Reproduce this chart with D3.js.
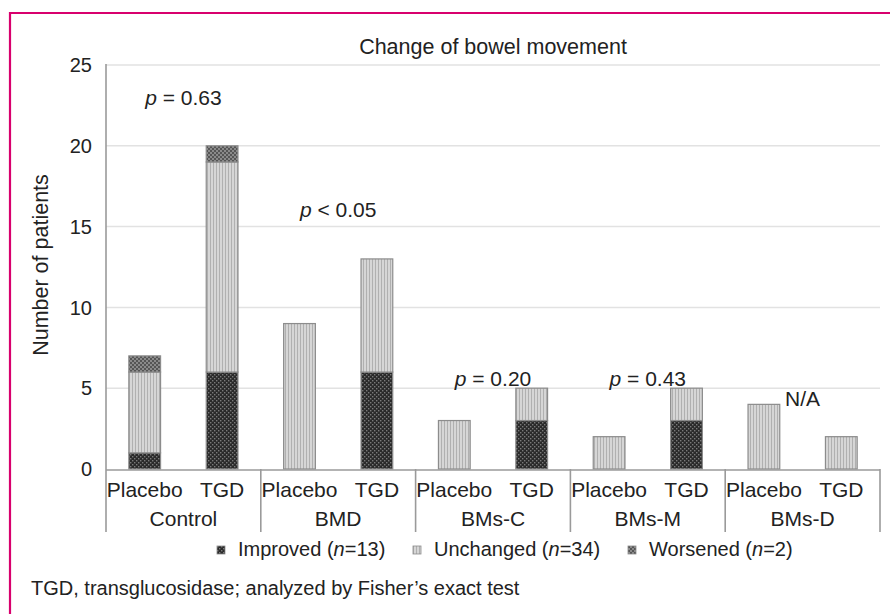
<!DOCTYPE html>
<html>
<head>
<meta charset="utf-8">
<script src="https://cdn.jsdelivr.net/npm/d3@7"></script>
<style>
  html, body { margin: 0; padding: 0; background: #fff; }
  svg { display: block; font-family: "Liberation Sans", Arial, sans-serif; }
</style>
</head>
<body>
<svg id="chart" width="890" height="614"></svg>
<script>
// Patient counts per study arm, grouped by condition
const groups = ["Control", "BMD", "BMs-C", "BMs-M", "BMs-D"];
const arms = ["Placebo", "TGD"];
const improved  = [1, 6, 0, 6, 0, 3, 0, 3, 0, 0];
const unchanged = [5, 13, 9, 7, 3, 2, 2, 2, 4, 2];
const worsened  = [1, 1, 0, 0, 0, 0, 0, 0, 0, 0];
const pLabels = [
  { p: "p", rest: " = 0.63", y: 22.5 },
  { p: "p", rest: " < 0.05", y: 15.6 },
  { p: "p", rest: " = 0.20", y: 5.15 },
  { p: "p", rest: " = 0.43", y: 5.15 },
  { p: "",  rest: "N/A",     y: 3.9 }
];
const yTicks = [0, 5, 10, 15, 20, 25];
const seriesNames = ["Improved", "Unchanged", "Worsened"];
const seriesN = [13, 34, 2];

(function draw() {
  const svg = d3.select("#chart");
  const ink = "#222";

  // Patterned fills for the three outcomes
  const defs = svg.append("defs");
  const pImp = defs.append("pattern").attr("id", "pat-imp").attr("patternUnits", "userSpaceOnUse")
    .attr("width", 4).attr("height", 4);
  pImp.append("rect").attr("width", 4).attr("height", 4).attr("fill", "#2a2a2a");
  pImp.append("rect").attr("x", 0).attr("y", 0).attr("width", 1.4).attr("height", 1.4).attr("fill", "#7a7a7a");
  pImp.append("rect").attr("x", 2).attr("y", 2).attr("width", 1.4).attr("height", 1.4).attr("fill", "#7a7a7a");

  const pUnc = defs.append("pattern").attr("id", "pat-unc").attr("patternUnits", "userSpaceOnUse")
    .attr("width", 3).attr("height", 3);
  pUnc.append("rect").attr("width", 3).attr("height", 3).attr("fill", "#d6d6d6");
  pUnc.append("rect").attr("x", 0).attr("y", 0).attr("width", 1).attr("height", 3).attr("fill", "#b0b0b0");

  const pWor = defs.append("pattern").attr("id", "pat-wor").attr("patternUnits", "userSpaceOnUse")
    .attr("width", 4).attr("height", 4);
  pWor.append("rect").attr("width", 4).attr("height", 4).attr("fill", "#8a8a8a");
  pWor.append("rect").attr("x", 0).attr("y", 0).attr("width", 2).attr("height", 2).attr("fill", "#555");
  pWor.append("rect").attr("x", 2).attr("y", 2).attr("width", 2).attr("height", 2).attr("fill", "#555");

  const fills = ["url(#pat-imp)", "url(#pat-unc)", "url(#pat-wor)"];

  // Frame
  svg.append("line").attr("x1", 10).attr("x2", 890).attr("y1", 13).attr("y2", 13)
    .attr("stroke", "#d8006d").attr("stroke-width", 2.2);
  svg.append("line").attr("x1", 10).attr("x2", 10).attr("y1", 12).attr("y2", 614)
    .attr("stroke", "#d8006d").attr("stroke-width", 2.2);

  const plotL = 106, plotR = 880, plotT = 65, plotB = 469;

  const y = d3.scaleLinear().domain([0, 25]).range([plotB, plotT]);
  const keys = [];
  groups.forEach(g => arms.forEach(a => keys.push(g + "|" + a)));
  const x = d3.scaleBand().domain(keys).range([plotL, plotR]);
  const xg = d3.scaleBand().domain(groups).range([plotL, plotR]);
  const barW = x.bandwidth() * 0.41;

  // Gridlines
  svg.append("g").selectAll("line").data(yTicks.filter(t => t > 0)).join("line")
    .attr("x1", plotL).attr("x2", plotR)
    .attr("y1", d => y(d)).attr("y2", d => y(d))
    .attr("stroke", "#e2e2e2").attr("stroke-width", 1.5);

  // Y tick labels
  svg.append("g").selectAll("text").data(yTicks).join("text")
    .attr("x", 92).attr("y", d => y(d)).attr("dy", "0.36em")
    .attr("text-anchor", "end").attr("font-size", 20).attr("fill", ink)
    .text(d => d);

  // Y axis title
  svg.append("text")
    .attr("transform", "translate(48,265) rotate(-90)")
    .attr("text-anchor", "middle").attr("font-size", 21.5).attr("fill", ink)
    .text("Number of patients");

  // Title
  svg.append("text").attr("x", 493).attr("y", 54).attr("text-anchor", "middle")
    .attr("font-size", 21.5).attr("fill", ink).text("Change of bowel movement");

  // Stacked bars
  const stackData = keys.map((k, i) => ({ key: k, Improved: improved[i], Unchanged: unchanged[i], Worsened: worsened[i] }));
  const stacked = d3.stack().keys(seriesNames)(stackData);
  stacked.forEach((layer, si) => {
    svg.append("g").selectAll("rect").data(layer.filter(d => d[1] - d[0] > 0)).join("rect")
      .attr("x", d => x(d.data.key) + (x.bandwidth() - barW) / 2)
      .attr("width", barW)
      .attr("y", d => y(d[1]))
      .attr("height", d => y(d[0]) - y(d[1]))
      .attr("fill", fills[si])
      .attr("stroke", "#8c8c8c").attr("stroke-width", 1.2);
  });

  // Axis lines and group separators
  const axisColor = "#9a9a9a";
  svg.append("line").attr("x1", plotL).attr("x2", plotL).attr("y1", plotT - 1).attr("y2", 532)
    .attr("stroke", axisColor).attr("stroke-width", 1.6);
  svg.append("line").attr("x1", plotL).attr("x2", plotR).attr("y1", plotB + 1).attr("y2", plotB + 1)
    .attr("stroke", axisColor).attr("stroke-width", 1.6);
  svg.append("g").selectAll("line").data(groups).join("line")
    .attr("x1", d => xg(d) + xg.bandwidth()).attr("x2", d => xg(d) + xg.bandwidth())
    .attr("y1", plotB).attr("y2", 532)
    .attr("stroke", axisColor).attr("stroke-width", 1.6);

  // Category labels
  svg.append("g").selectAll("text").data(keys).join("text")
    .attr("x", d => x(d) + x.bandwidth() / 2).attr("y", 497)
    .attr("text-anchor", "middle").attr("font-size", 21).attr("fill", ink)
    .text(d => d.split("|")[1]);
  svg.append("g").selectAll("text").data(groups).join("text")
    .attr("x", d => xg(d) + xg.bandwidth() / 2).attr("y", 526)
    .attr("text-anchor", "middle").attr("font-size", 21).attr("fill", ink)
    .text(d => d);

  // p-value annotations
  const pl = svg.append("g").selectAll("text").data(pLabels).join("text")
    .attr("x", (d, i) => xg(groups[i]) + xg.bandwidth() / 2)
    .attr("y", d => y(d.y))
    .attr("text-anchor", "middle").attr("font-size", 21).attr("fill", ink);
  pl.append("tspan").attr("font-style", "italic").text(d => d.p);
  pl.append("tspan").text(d => d.rest);

  // Legend
  const legX = [217, 413, 628];
  const leg = svg.append("g").selectAll("g").data(seriesNames).join("g")
    .attr("transform", (d, i) => `translate(${legX[i]},546)`);
  leg.append("rect").attr("width", 8).attr("height", 8).attr("fill", (d, i) => fills[i])
    .attr("stroke", "#8c8c8c").attr("stroke-width", 0.8);
  const lt = leg.append("text").attr("x", 21).attr("y", 9.5).attr("font-size", 20).attr("fill", ink);
  lt.append("tspan").text(d => d + " (");
  lt.append("tspan").attr("font-style", "italic").text("n");
  lt.append("tspan").text((d, i) => "=" + seriesN[i] + ")");

  // Footnote
  svg.append("text").attr("x", 31).attr("y", 595).attr("font-size", 20).attr("fill", ink)
    .text("TGD, transglucosidase; analyzed by Fisher’s exact test");
})();
</script>
</body>
</html>
